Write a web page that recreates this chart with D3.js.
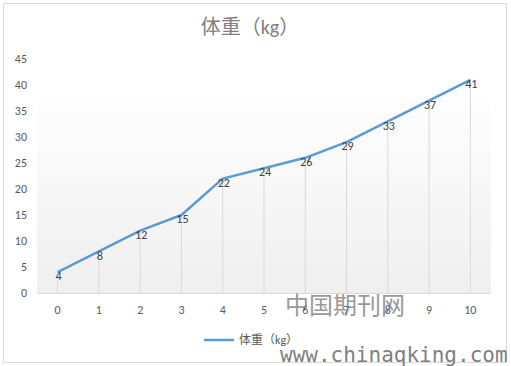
<!DOCTYPE html>
<html>
<head>
<meta charset="utf-8">
<script src="https://cdn.jsdelivr.net/npm/d3@7"></script>
<style>
  body { margin: 0; background: #fff; }
  text { font-family: Calibri, Carlito, "Noto Sans", "Noto Sans CJK SC", sans-serif; }
</style>
</head>
<body>
<div id="chart"></div>
<script>
// data
const categories = ["0", "1", "2", "3", "4", "5", "6", "7", "8", "9", "10"];
const weights = [4, 8, 12, 15, 22, 24, 26, 29, 33, 37, 41];
const yTicks = [0, 5, 10, 15, 20, 25, 30, 35, 40, 45];
const seriesName = "体重（kg）";

const width = 511, height = 366;
const svg = d3.select("#chart").append("svg")
  .attr("width", width)
  .attr("height", height);

// outer chart border
svg.append("rect")
  .attr("x", 3.5).attr("y", 3.5)
  .attr("width", 503).attr("height", 359)
  .attr("fill", "#fff")
  .attr("stroke", "#d9d9d9");

const plot = { left: 37, right: 491, top: 59, bottom: 293 };

const x = d3.scaleBand()
  .domain(categories)
  .range([plot.left, plot.right]);

const y = d3.scaleLinear()
  .domain([0, 45])
  .range([plot.bottom, plot.top]);

// gradient fill behind the series
const defs = svg.append("defs");
const grad = defs.append("linearGradient")
  .attr("id", "bg").attr("x1", 0).attr("y1", 0).attr("x2", 0).attr("y2", 1);
grad.append("stop").attr("offset", "0%").attr("stop-color", "#ffffff");
grad.append("stop").attr("offset", "100%").attr("stop-color", "#efefef");

svg.append("rect")
  .attr("x", plot.left)
  .attr("y", y(40) + 1)
  .attr("width", plot.right - plot.left)
  .attr("height", y(0) - y(40) - 1)
  .attr("fill", "url(#bg)");

// title
svg.append("text")
  .attr("x", 250).attr("y", 34)
  .attr("text-anchor", "middle")
  .style("font-size", "20px")
  .style("fill", "#808080")
  .text(seriesName);

// y tick labels
svg.append("g").selectAll("text")
  .data(yTicks)
  .join("text")
  .attr("x", 27)
  .attr("y", d => y(d))
  .attr("dy", "0.35em")
  .attr("text-anchor", "end")
  .style("font-size", "12px")
  .style("fill", "#595959")
  .text(d => d);

// drop lines
svg.append("g").selectAll("line")
  .data(weights)
  .join("line")
  .attr("x1", (d, i) => x(categories[i]) + x.bandwidth() / 2)
  .attr("x2", (d, i) => x(categories[i]) + x.bandwidth() / 2)
  .attr("y1", d => y(d))
  .attr("y2", y(0))
  .attr("stroke", "#d9d9d9")
  .attr("stroke-width", 1);

// x axis line
svg.append("line")
  .attr("x1", plot.left).attr("x2", plot.right)
  .attr("y1", y(0) + 0.5).attr("y2", y(0) + 0.5)
  .attr("stroke", "#d9d9d9");

// x tick labels
svg.append("g").selectAll("text")
  .data(categories)
  .join("text")
  .attr("x", d => x(d) + x.bandwidth() / 2)
  .attr("y", 310)
  .attr("dy", "0.35em")
  .attr("text-anchor", "middle")
  .style("font-size", "12px")
  .style("fill", "#595959")
  .text(d => d);

// the series line
const line = d3.line()
  .x((d, i) => x(categories[i]) + x.bandwidth() / 2)
  .y(d => y(d));

svg.append("path")
  .datum(weights)
  .attr("d", line)
  .attr("fill", "none")
  .attr("stroke", "#5b9bd5")
  .attr("stroke-width", 2.5)
  .attr("stroke-linejoin", "round");

// data labels
svg.append("g").selectAll("text")
  .data(weights)
  .join("text")
  .attr("x", (d, i) => x(categories[i]) + x.bandwidth() / 2 + 1)
  .attr("y", d => y(d) + 4)
  .attr("dy", "0.35em")
  .attr("text-anchor", "middle")
  .style("font-size", "12px")
  .style("fill", "#404040")
  .text(d => d);

// legend
svg.append("line")
  .attr("x1", 204).attr("x2", 234)
  .attr("y1", 340).attr("y2", 340)
  .attr("stroke", "#5b9bd5")
  .attr("stroke-width", 2.5);

svg.append("text")
  .attr("x", 239).attr("y", 340)
  .attr("dy", "0.35em")
  .style("font-size", "12px")
  .style("fill", "#595959")
  .text(seriesName);

// watermark
svg.append("text")
  .attr("x", 285).attr("y", 314)
  .style("font-family", "'Noto Sans CJK SC', sans-serif")
  .style("font-size", "24px")
  .style("fill", "#7f7f7f")
  .style("opacity", 0.8)
  .text("中国期刊网");

svg.append("text")
  .attr("x", 280).attr("y", 362)
  .style("font-family", "'DejaVu Sans Mono', monospace")
  .style("font-size", "21px")
  .style("fill", "#808080")
  .text("www.chinaqking.com");
</script>
</body>
</html>
